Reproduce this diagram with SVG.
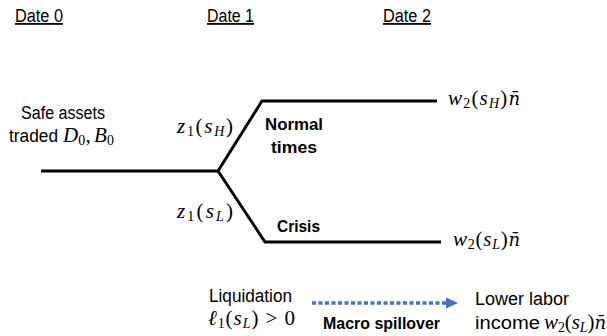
<svg xmlns="http://www.w3.org/2000/svg" width="607" height="336" viewBox="0 0 607 336">
<defs>
<style>
.t{font-family:"Liberation Sans",Arial,sans-serif;font-size:18px;fill:#000}
.b{font-family:"Liberation Sans",Arial,sans-serif;font-size:17px;font-weight:bold;fill:#000}
.m{font-family:"Liberation Serif","Times New Roman",serif;font-size:21px;fill:#000}
.i{font-style:italic}
.s{font-size:14px}
.nb{font-family:"DejaVu Serif",serif;font-style:italic;font-size:18px}
.u{text-decoration:underline}
.ln{stroke:#000;stroke-width:3;fill:none}
</style>
</defs>
<rect width="607" height="336" fill="#fff"/>
<g id="headers">
<text class="t u" x="15" y="22" textLength="48" lengthAdjust="spacingAndGlyphs">Date 0</text>
<text class="t u" x="207" y="22" textLength="47" lengthAdjust="spacingAndGlyphs">Date 1</text>
<text class="t u" x="383" y="22" textLength="48" lengthAdjust="spacingAndGlyphs">Date 2</text>
</g>
<g id="connectors">
<polyline class="ln" points="41,171 218,171"/>
<polyline class="ln" points="218,171 262,101 437,101"/>
<polyline class="ln" points="218,171 265,242 441,242"/>
<line x1="312" y1="303" x2="447" y2="303" stroke="#4472C4" stroke-width="3.5" stroke-dasharray="4,2.5"/>
<path d="M446,297.5 L458,303 L446,308.5 Z" fill="#4472C4"/>
</g>
<g id="date0">
<text class="t" x="21" y="119" textLength="84" lengthAdjust="spacingAndGlyphs">Safe assets</text>
<text class="t" x="9" y="142" textLength="49" lengthAdjust="spacingAndGlyphs">traded</text>
<text class="m" x="63" y="142" textLength="51" lengthAdjust="spacing"><tspan class="i">D</tspan><tspan class="s" dy="3">0</tspan><tspan dy="-3">,</tspan><tspan class="i" dx="3">B</tspan><tspan class="s" dy="3">0</tspan></text>
</g>
<g id="labels">
<text class="m" x="177" y="133" textLength="56" lengthAdjust="spacing"><tspan class="i">z</tspan><tspan class="s" dy="3">1</tspan><tspan dy="-3">(</tspan><tspan class="i">s</tspan><tspan class="s i" dy="3">H</tspan><tspan dy="-3">)</tspan></text>
<text class="m" x="177" y="218" textLength="56" lengthAdjust="spacing"><tspan class="i">z</tspan><tspan class="s" dy="3">1</tspan><tspan dy="-3">(</tspan><tspan class="i">s</tspan><tspan class="s i" dy="3">L</tspan><tspan dy="-3">)</tspan></text>
</g>
<g id="normal">
<text class="b" x="265" y="130" textLength="58" lengthAdjust="spacingAndGlyphs">Normal</text>
<text class="b" x="271" y="153" textLength="46" lengthAdjust="spacingAndGlyphs">times</text>
<text class="m" x="448" y="105" textLength="72" lengthAdjust="spacing"><tspan class="i">w</tspan><tspan class="s" dy="3">2</tspan><tspan dy="-3">(</tspan><tspan class="i">s</tspan><tspan class="s i" dy="3">H</tspan><tspan dy="-3">)</tspan><tspan class="nb">n̄</tspan></text>
</g>
<g id="crisis">
<text class="b" x="277" y="232" textLength="43" lengthAdjust="spacingAndGlyphs">Crisis</text>
<text class="m" x="453" y="246" textLength="67" lengthAdjust="spacing"><tspan class="i">w</tspan><tspan class="s" dy="3">2</tspan><tspan dy="-3">(</tspan><tspan class="i">s</tspan><tspan class="s i" dy="3">L</tspan><tspan dy="-3">)</tspan><tspan class="nb">n̄</tspan></text>
</g>
<g id="liquidation">
<text class="t" x="209" y="302" textLength="83" lengthAdjust="spacingAndGlyphs">Liquidation</text>
<text class="m" x="208" y="325" textLength="87" lengthAdjust="spacing"><tspan class="i">ℓ</tspan><tspan class="s" dy="3">1</tspan><tspan dy="-3">(</tspan><tspan class="i">s</tspan><tspan class="s i" dy="3">L</tspan><tspan dy="-3">) &gt; 0</tspan></text>
</g>
<g id="spillover">
<text class="b" x="323" y="329" textLength="117" lengthAdjust="spacingAndGlyphs">Macro spillover</text>
</g>
<g id="lowerlabor">
<text class="t" x="475" y="305" textLength="94" lengthAdjust="spacingAndGlyphs">Lower labor</text>
<text class="t" x="475" y="329" textLength="65" lengthAdjust="spacingAndGlyphs">income</text>
<text class="m" x="544" y="329" textLength="62" lengthAdjust="spacing"><tspan class="i">w</tspan><tspan class="s" dy="3">2</tspan><tspan dy="-3">(</tspan><tspan class="i">s</tspan><tspan class="s i" dy="3">L</tspan><tspan dy="-3">)</tspan><tspan class="nb">n̄</tspan></text>
</g>
</svg>
